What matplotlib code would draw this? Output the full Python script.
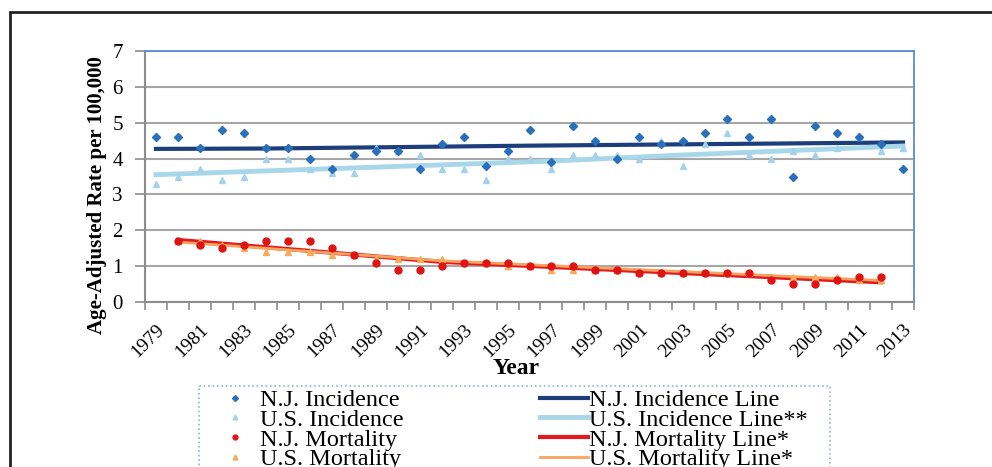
import numpy as np
import matplotlib
matplotlib.use("Agg")
from matplotlib import pyplot as plt
from matplotlib.lines import Line2D
from matplotlib.patches import Rectangle

plt.rcParams['font.family'] = ['Liberation Serif', 'DejaVu Serif']

# incidence, 1979-2013
inc_years = list(range(1979, 2014))
nj_inc = [4.6, 4.6, 4.3, 4.8, 4.7, 4.3, 4.3, 4.0, 3.7, 4.1, 4.2, 4.2,
          3.7, 4.4, 4.6, 3.8, 4.2, 4.8, 3.9, 4.9, 4.5, 4.0, 4.6, 4.4,
          4.5, 4.7, 5.1, 4.6, 5.1, 3.5, 4.9, 4.7, 4.6, 4.4, 3.7]
us_inc = [3.3, 3.5, 3.7, 3.4, 3.5, 4.0, 4.0, 3.7, 3.6, 3.6, 4.3, 4.2,
          4.1, 3.7, 3.7, 3.4, 4.0, 4.0, 3.7, 4.1, 4.1, 4.1, 4.0, 4.5,
          3.8, 4.4, 4.7, 4.1, 4.0, 4.2, 4.1, 4.3, 4.6, 4.2, 4.3]

# mortality, 1980-2012
mort_years = list(range(1980, 2013))
nj_mort = [1.7, 1.6, 1.5, 1.6, 1.7, 1.7, 1.7, 1.5, 1.3, 1.1, 0.9, 0.9,
           1.0, 1.1, 1.1, 1.1, 1.0, 1.0, 1.0, 0.9, 0.9, 0.8, 0.8, 0.8,
           0.8, 0.8, 0.8, 0.6, 0.5, 0.5, 0.6, 0.7, 0.7]
us_mort = [1.7, 1.7, 1.6, 1.5, 1.4, 1.4, 1.4, 1.3, 1.3, 1.2, 1.2, 1.2,
           1.2, 1.1, 1.1, 1.0, 1.0, 0.9, 0.9, 0.9, 0.9, 0.8, 0.8, 0.8,
           0.8, 0.8, 0.8, 0.7, 0.7, 0.7, 0.7, 0.6, 0.6]

# trend lines (joinpoints)
nj_inc_line_x = [1979, 1984, 1996, 2013]
nj_inc_line_y = [4.27, 4.28, 4.36, 4.45]
us_inc_line_x = [1979, 1997, 2003, 2013]
us_inc_line_y = [3.55, 3.93, 4.10, 4.35]
nj_mort_line_x = [1980, 1992, 2012]
nj_mort_line_y = [1.73, 1.12, 0.55]
us_mort_line_x = [1980, 1992, 2012]
us_mort_line_y = [1.67, 1.15, 0.60]

tick_years = list(range(1979, 2014, 2))

fig = plt.figure(figsize=(9.92, 4.67), dpi=100)
ax = fig.add_axes([145/992, 1-302/467, (914-145)/992, (302-51)/467])

ax.plot(nj_inc_line_x, nj_inc_line_y, color='#1c3f7c', lw=3, zorder=3)
ax.plot(us_inc_line_x, us_inc_line_y, color='#a9d7ea', lw=3.5, zorder=3)
ax.plot(nj_mort_line_x, nj_mort_line_y, color='#e2191e', lw=3, zorder=3)
ax.plot(us_mort_line_x, us_mort_line_y, color='#f7a55e', lw=2, zorder=3)

ax.plot(inc_years, nj_inc, 'D', ms=4, color='#2a6fba', zorder=5)
ax.plot(inc_years, us_inc, '^', ms=4.5, color='#a5d2ea', zorder=4)
ax.plot(mort_years, nj_mort, 'o', ms=5, color='#e01313', zorder=5)
ax.plot(mort_years, us_mort, '^', ms=4.5, color='#f8a95a', zorder=4)

ax.set_xlim(1978.5, 2013.5)
ax.set_ylim(0, 7)
ax.set_yticks(range(0, 8))
ax.yaxis.grid(True, color='#a6a6a6', lw=1.5)
ax.set_axisbelow(True)

ax.set_xticks(np.arange(1978.5, 2014, 1))
ax.set_xticklabels([])
ax.set_xticks(tick_years, minor=True)
ax.set_xticklabels([str(y) for y in tick_years], minor=True, rotation=45,
                   ha='right', va='top', rotation_mode='anchor', fontsize=14)
ax.tick_params(axis='x', which='major', length=6, width=1.2, color='#8c8c8c')
ax.tick_params(axis='x', which='minor', length=0, pad=14)
ax.tick_params(axis='y', length=7, width=1.2, color='#8c8c8c', labelsize=15, pad=9)

for s in ['left', 'bottom']:
    ax.spines[s].set_color('#8c8c8c')
    ax.spines[s].set_linewidth(1.5)
for s in ['top', 'right']:
    ax.spines[s].set_color('#5b8bd0')
    ax.spines[s].set_linewidth(1.3)

fig.text(97/992, 1-195/467, 'Age-Adjusted Rate per 100,000', rotation=90,
         ha='center', va='center', fontsize=15, fontweight='bold')
fig.text(516/992, 1-368/467, 'Year', ha='center', va='center',
         fontsize=17, fontweight='bold')

handles = [
    Line2D([], [], ls='none', marker='D', ms=3, color='#2a6fba'),
    Line2D([], [], ls='none', marker='^', ms=3.5, color='#a5d2ea'),
    Line2D([], [], ls='none', marker='o', ms=3.5, color='#e01313'),
    Line2D([], [], ls='none', marker='^', ms=3.5, color='#f8a95a'),
    Line2D([], [], color='#1c3f7c', lw=3),
    Line2D([], [], color='#a9d7ea', lw=3.5),
    Line2D([], [], color='#e2191e', lw=3),
    Line2D([], [], color='#f7a55e', lw=2),
]
labels = ['N.J. Incidence', 'U.S. Incidence', 'N.J. Mortality', 'U.S. Mortality',
          'N.J. Incidence Line', 'U.S. Incidence Line**', 'N.J. Mortality Line*',
          'U.S. Mortality Line*']
leg = fig.legend(handles, labels, ncol=2, loc='upper left',
                 bbox_to_anchor=(211/992, 1-389/467), borderaxespad=0,
                 fontsize=17.5, frameon=False, handlelength=1.98,
                 handletextpad=0.05, columnspacing=5.6, labelspacing=-0.09,
                 borderpad=0)

# dotted legend box
fig.patches.append(Rectangle((199/992, -0.1), (830-199)/992, 0.1+1-386/467,
                             fill=False, edgecolor='#8fb3d9', ls=':', lw=1.2,
                             transform=fig.transFigure))
# page frame
fig.patches.append(Rectangle((10/992, -0.2), 1.5, 1.2-12/467, fill=False,
                             edgecolor='#222222', lw=2, transform=fig.transFigure))

fig.savefig('out.png', dpi=100)
